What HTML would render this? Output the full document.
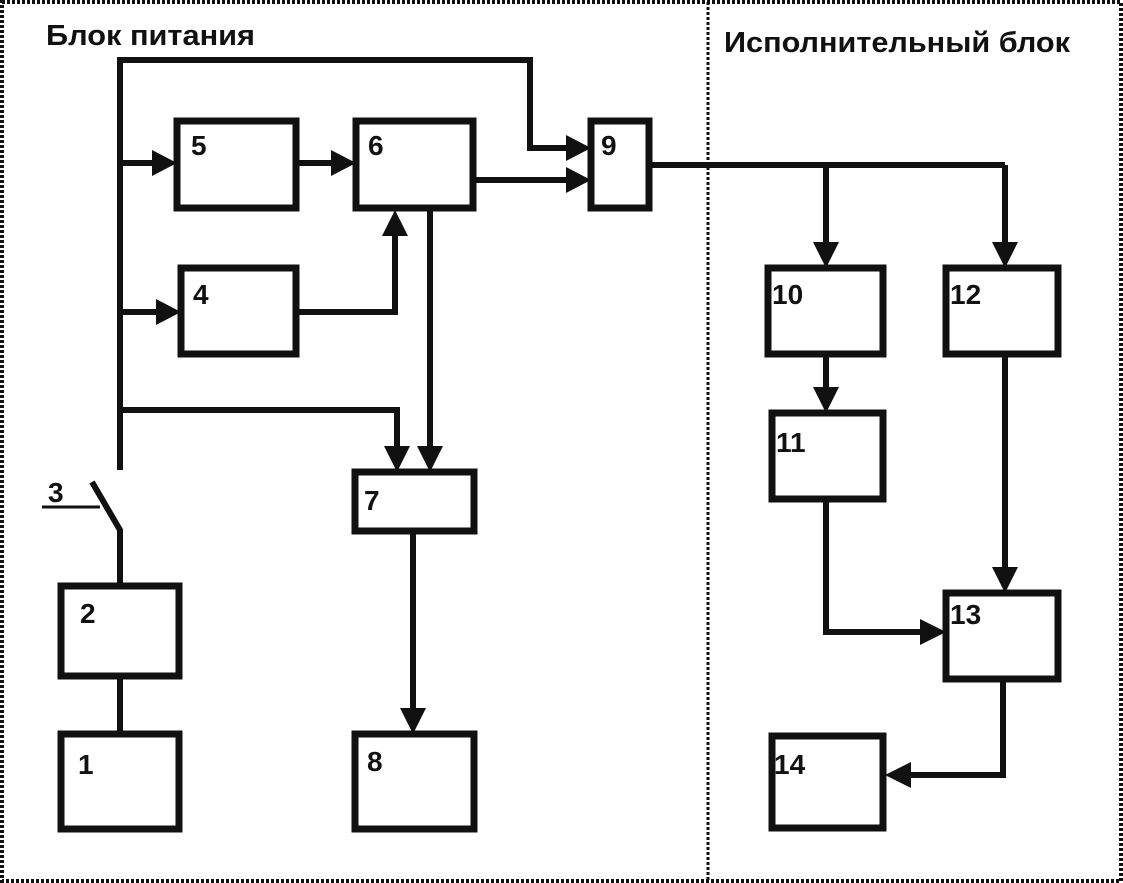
<!DOCTYPE html>
<html><head><meta charset="utf-8"><style>html,body{margin:0;padding:0;background:#fff}svg{display:block}</style></head>
<body>
<svg width="1123" height="883" viewBox="0 0 1123 883" xmlns="http://www.w3.org/2000/svg">
<rect x="2" y="2" width="1119" height="879" fill="#fff" stroke="#111" stroke-width="4" stroke-dasharray="3,2"/>
<line x1="708" y1="2" x2="708" y2="881" stroke="#111" stroke-width="3" stroke-dasharray="3,2"/>
<g font-family="Liberation Sans, sans-serif" font-weight="bold" fill="#111">
<text x="46" y="45" font-size="29" textLength="209" lengthAdjust="spacingAndGlyphs">Блок питания</text>
<text x="724" y="52" font-size="29" textLength="346" lengthAdjust="spacingAndGlyphs">Исполнительный блок</text>
</g>
<g fill="none" stroke="#111" stroke-width="7">
<rect x="177" y="121" width="119" height="87"/>
<rect x="356" y="121" width="117" height="87"/>
<rect x="591" y="121" width="58" height="87"/>
<rect x="181" y="268" width="115" height="86"/>
<rect x="355" y="472" width="119" height="59"/>
<rect x="355" y="734" width="119" height="95"/>
<rect x="61" y="586" width="118" height="90"/>
<rect x="61" y="734" width="118" height="95"/>
<rect x="768" y="268" width="115" height="86"/>
<rect x="946" y="268" width="112" height="86"/>
<rect x="772" y="413" width="111" height="86"/>
<rect x="946" y="593" width="112" height="86"/>
<rect x="772" y="736" width="111" height="92"/>
</g>
<g fill="none" stroke="#111" stroke-width="6">
<polyline points="120,470 120,60 530,60 530,148 570,148"/>
<line x1="120" y1="163" x2="158" y2="163"/>
<line x1="296" y1="163" x2="336" y2="163"/>
<line x1="473" y1="180" x2="570" y2="180"/>
<line x1="120" y1="312" x2="160" y2="312"/>
<polyline points="296,312 395,312 395,230"/>
<line x1="430" y1="208" x2="430" y2="450"/>
<polyline points="120,410 397,410 397,450"/>
<line x1="413" y1="531" x2="413" y2="712"/>
<line x1="120" y1="679" x2="120" y2="734"/>
<polyline points="120,583 120,530 92,482"/>
<line x1="42" y1="507" x2="100" y2="507" stroke-width="3"/>
<line x1="649" y1="165" x2="1005" y2="165"/>
<line x1="826" y1="165" x2="826" y2="248"/>
<line x1="1005" y1="165" x2="1005" y2="248"/>
<line x1="826" y1="354" x2="826" y2="393"/>
<polyline points="826,499 826,632 926,632"/>
<line x1="1005" y1="354" x2="1005" y2="573"/>
<polyline points="1003,679 1003,775 905,775"/>
</g>
<g fill="#111">
<polygon points="177,163 152,150 152,176"/>
<polygon points="356,163 331,150 331,176"/>
<polygon points="591,148 566,135 566,161"/>
<polygon points="591,180 566,167 566,193"/>
<polygon points="181,312 156,299 156,325"/>
<polygon points="395,210 382,236 408,236"/>
<polygon points="397,472 384,446 410,446"/>
<polygon points="430,472 417,446 443,446"/>
<polygon points="413,734 400,708 426,708"/>
<polygon points="826,268 813,242 839,242"/>
<polygon points="1005,268 992,242 1018,242"/>
<polygon points="826,413 813,387 839,387"/>
<polygon points="946,632 920,619 920,645"/>
<polygon points="1005,593 992,567 1018,567"/>
<polygon points="885,775 911,762 911,788"/>
</g>
<g font-family="Liberation Sans, sans-serif" font-weight="bold" font-size="28" fill="#111">
<text x="191" y="155">5</text>
<text x="368" y="155">6</text>
<text x="601" y="155">9</text>
<text x="193" y="304">4</text>
<text x="364" y="510">7</text>
<text x="367" y="771">8</text>
<text x="80" y="623">2</text>
<text x="78" y="774">1</text>
<text x="48" y="502">3</text>
<text x="772" y="304">10</text>
<text x="950" y="304">12</text>
<text x="776" y="452">11</text>
<text x="950" y="624">13</text>
<text x="774" y="774">14</text>
</g>
</svg>
</body></html>
